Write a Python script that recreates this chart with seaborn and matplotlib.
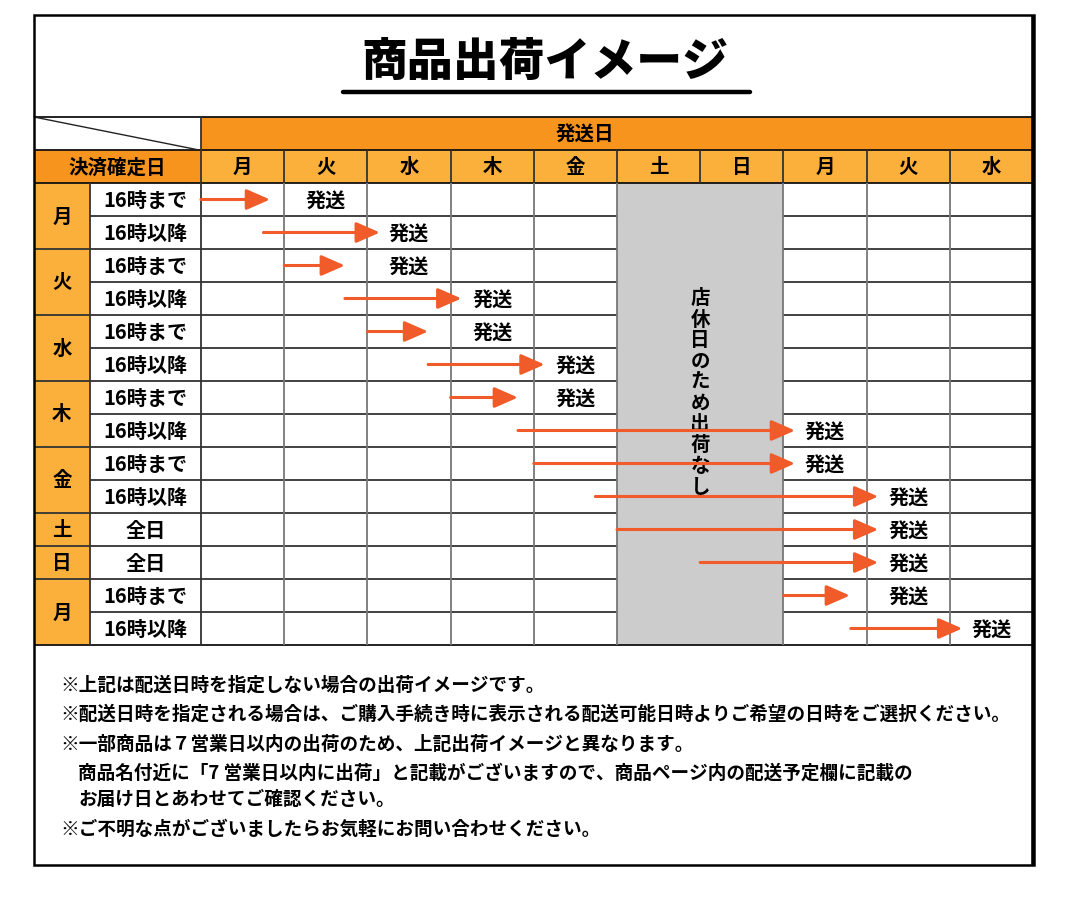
import numpy as np
import matplotlib
matplotlib.use('Agg')
import matplotlib.pyplot as plt
import seaborn as sns
from matplotlib.colors import ListedColormap
from matplotlib.patches import Rectangle

sns.set_theme(style='white')
plt.rcParams['font.family'] = ['Noto Sans CJK JP', 'DejaVu Sans']

# ---------------- data ----------------
title = '商品出荷イメージ'
ship_header = '発送日'
order_header = '決済確定日'
ship_days = ['月', '火', '水', '木', '金', '土', '日', '月', '火', '水']
order_groups = ['月', '火', '水', '木', '金', '土', '日', '月']
group_sizes = [2, 2, 2, 2, 2, 1, 1, 2]
row_labels = ['16時まで', '16時以降', '16時まで', '16時以降', '16時まで', '16時以降',
              '16時まで', '16時以降', '16時まで', '16時以降', '全日', '全日',
              '16時まで', '16時以降']
closed_cols = [5, 6]
closed_text = '店休日のため出荷なし'
ship_label = '発送'
arrow_start = [0.0, 0.75, 1.0, 1.73, 2.0, 2.73, 3.0, 3.81, 4.0, 4.74, 5.0, 6.0, 7.0, 7.81]
arrow_end = [0.83, 2.15, 1.73, 3.13, 2.73, 4.13, 3.81, 7.14, 7.14, 8.14, 8.14, 8.14, 7.8, 9.15]
ship_col = [1, 2, 2, 3, 3, 4, 4, 7, 7, 8, 8, 8, 8, 9]
notes = [
    '※上記は配送日時を指定しない場合の出荷イメージです。',
    '※配送日時を指定される場合は、ご購入手続き時に表示される配送可能日時よりご希望の日時をご選択ください。',
    '※一部商品は７営業日以内の出荷のため、上記出荷イメージと異なります。',
    '商品名付近に「7 営業日以内に出荷」と記載がございますので、商品ページ内の配送予定欄に記載の',
    'お届け日とあわせてご確認ください。',
    '※ご不明な点がございましたらお気軽にお問い合わせください。',
]

# ---------------- layout ----------------
W, H = 1068, 903
X0, CW, Y0, RH = 201.0, 83.2, 184.0, 33.0
def px(x):
    return (x - X0) / CW
def py(y):
    return (y - Y0) / RH

n_rows = len(row_labels)
n_cols = len(ship_days)

DARK_OR = '#F7941D'
LIGHT_OR = '#FBB03B'
GRAY = '#CCCCCC'
ARROW = '#F15A29'

fig = plt.figure(figsize=(W / 100, H / 100), dpi=100)
ax = fig.add_axes([0, 0, 1, 1])

mat = np.zeros((n_rows, n_cols))
for c in closed_cols:
    mat[:, c] = 1
sns.heatmap(mat, ax=ax, cmap=ListedColormap(['white', GRAY]), vmin=0, vmax=1,
            cbar=False, xticklabels=False, yticklabels=False, linewidths=0)

ax.set_xlim(px(0), px(W))
ax.set_ylim(py(H), py(0))
ax.axis('off')

LEFT = px(34)
RIGHT = n_cols
SUB = px(90)

# header backgrounds
ax.add_patch(Rectangle((0, -2), n_cols, 1, facecolor=DARK_OR, edgecolor='none', zorder=1))
ax.add_patch(Rectangle((LEFT, -1), -LEFT, 1, facecolor=DARK_OR, edgecolor='none', zorder=1))
ax.add_patch(Rectangle((0, -1), n_cols, 1, facecolor=LIGHT_OR, edgecolor='none', zorder=1))
ax.add_patch(Rectangle((LEFT, 0), SUB - LEFT, n_rows, facecolor=LIGHT_OR, edgecolor='none', zorder=1))

lc_h = '#333333'
lc_v = '#777777'
lw = 1.3

# horizontal lines
ax.hlines([-2, -1, 0, n_rows], LEFT, RIGHT, color='#111111', lw=lw, zorder=3)
gb = np.cumsum(group_sizes)
for k in range(1, n_rows):
    x_from = LEFT if k in gb else SUB
    ax.hlines(k, x_from, closed_cols[0], color=lc_h, lw=lw, zorder=3)
    ax.hlines(k, closed_cols[-1] + 1, RIGHT, color=lc_h, lw=lw, zorder=3)

# vertical lines
ax.vlines(0, -2, n_rows, color='#333333', lw=lw, zorder=3)
ax.vlines(SUB, 0, n_rows, color='#333333', lw=lw, zorder=3)
for c in range(1, n_cols):
    ax.vlines(c, -1, 0, color='#333333', lw=lw, zorder=3)
    if c == closed_cols[0] + 1:
        continue
    ax.vlines(c, 0, n_rows, color=lc_v, lw=lw, zorder=3)

# diagonal in corner
ax.plot([LEFT, px(199)], [-2, -1], color='#222222', lw=1.0, zorder=3)

# outer border
ax.add_patch(Rectangle((px(34), py(16)), px(1034) - px(34), py(866) - py(16),
                       fill=False, edgecolor='black', lw=1.8, zorder=5))
ax.vlines(px(1033), py(16), py(866), color='black', lw=2.6, zorder=5)

# title
ax.text(px(545), py(62), title, ha='center', va='center', fontsize=33,
        fontweight='heavy', color='black')
ax.plot([px(343), px(750)], [py(93), py(93)], color='black', lw=3.2)

# headers
FS = 14
ax.text(px(585), -1.5, ship_header, ha='center', va='center', fontsize=FS,
        fontweight='bold', color='black', zorder=4)
ax.text((LEFT + 0) / 2, -0.5, order_header, ha='center', va='center', fontsize=FS,
        fontweight='bold', color='black', zorder=4)
for c, d in enumerate(ship_days):
    ax.text(c + 0.5, -0.5, d, ha='center', va='center', fontsize=FS,
            fontweight='bold', color='black', zorder=4)

# left labels
start = 0
for g, s in zip(order_groups, group_sizes):
    ax.text((LEFT + SUB) / 2, start + s / 2, g, ha='center', va='center',
            fontsize=FS, fontweight='bold', color='black', zorder=4)
    start += s
for r, lab in enumerate(row_labels):
    ax.text((SUB + 0) / 2, r + 0.5, lab, ha='center', va='center', fontsize=14.5,
            fontweight='bold', color='black', zorder=4)

# closed text (vertical)
cx = (closed_cols[0] + closed_cols[-1] + 1) / 2
for i, ch in enumerate(closed_text):
    ax.text(cx, py(299 + i * 20.9), ch, ha='center', va='center', fontsize=14,
            fontweight='bold', color='black', zorder=4)

# arrows + ship labels
for r in range(n_rows):
    ax.annotate('', xy=(arrow_end[r], r + 0.5), xytext=(arrow_start[r], r + 0.5),
                arrowprops=dict(arrowstyle='-|>,head_length=0.8,head_width=0.35',
                                color=ARROW, lw=2.2, mutation_scale=18,
                                shrinkA=0, shrinkB=0), zorder=6)
    ax.text(ship_col[r] + 0.5, r + 0.5, ship_label, ha='center', va='center',
            fontsize=14.5, fontweight='bold', color='black', zorder=7)

# notes
note_x = [60, 60, 60, 78, 78, 60]
note_y = [685, 714, 744, 773, 800, 829]
for t, x, y in zip(notes, note_x, note_y):
    ax.text(px(x), py(y), t, ha='left', va='center', fontsize=13.4,
            fontweight='bold', color='black')

fig.savefig('out.png', dpi=100, facecolor='white')
